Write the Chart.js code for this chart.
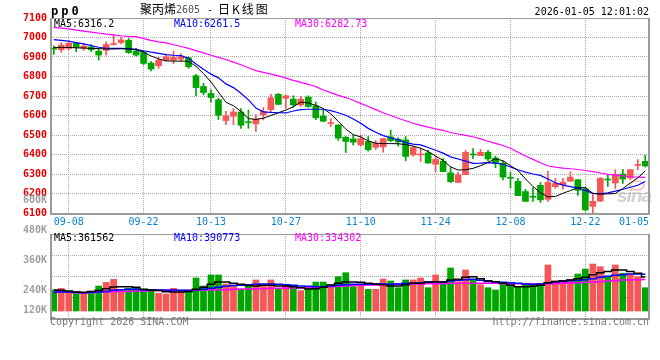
<!DOCTYPE html>
<html>
<head>
<meta charset="utf-8">
<script src="https://cdn.jsdelivr.net/npm/chart.js@4.4.1/dist/chart.umd.min.js"></script>
<style>
  html, body { margin: 0; padding: 0; background: #fff; }
  #wrap { position: relative; width: 660px; height: 360px; overflow: hidden; background: #fff;
          font-family: "DejaVu Sans Mono", monospace; font-size: 10px; color: #000; }
  #wrap canvas { position: absolute; left: 0; top: 0; }
  .t { position: absolute; white-space: pre; line-height: 12px; }
  .cjk { font-family: "Noto Sans CJK SC", sans-serif; font-size: 12px; }
  .mark { position: absolute; left: 617px; top: 185px; font: italic bold 19px "Liberation Sans", sans-serif;
          color: rgba(150,150,150,0.45); letter-spacing: -1px; }
  .eye { position: absolute; left: 629px; top: 180px; width: 12px; height: 7px; border-radius: 50%;
         border: 2px solid rgba(240,110,110,0.4); }
</style>
</head>
<body>
<div id="wrap">
  <div class="eye"></div>
  <div class="mark">sina</div>
  <canvas id="kline" width="660" height="360"></canvas>
  <canvas id="vol" width="660" height="360"></canvas>

  <div class="t" style="left:51px;top:4px;font-size:12px;font-weight:bold;letter-spacing:3px;line-height:14px">pp0</div>
  <div class="t cjk" style="left:140px;top:3px">聚丙烯</div>
  <div class="t" style="left:176px;top:4px;color:#555">2605</div>
  <div class="t" style="left:207px;top:4px">-</div>
  <div class="t cjk" style="left:218px;top:3px;letter-spacing:2px">日K线图</div>
  <div class="t" style="right:11px;top:6px">2026-01-05 12:01:02</div>

  <div class="t" id="ma5" style="left:54px;top:18px"></div>
  <div class="t" id="ma10" style="left:174px;top:18px;color:#0000ff"></div>
  <div class="t" id="ma30" style="left:295px;top:18px;color:#ff00ff"></div>
  <div class="t" id="vma5" style="left:54px;top:232px"></div>
  <div class="t" id="vma10" style="left:174px;top:232px;color:#0000ff"></div>
  <div class="t" id="vma30" style="left:295px;top:232px;color:#ff00ff"></div>

  <div class="t" style="left:50px;top:316px;color:#777">Copyright 2026 SINA.COM</div>
  <div class="t" style="right:11px;top:316px;color:#777">http://finance.sina.com.cn</div>
</div>

<script>
// pp0 daily K-line (聚丙烯2605) with MA5/10/30, plus volume panel below.

const DATES = [
  "09-04","09-05","09-08","09-09","09-10","09-11","09-12","09-15","09-16","09-17",
  "09-18","09-19","09-22","09-23","09-24","09-25","09-26","09-29","09-30","10-09",
  "10-10","10-13","10-14","10-15","10-16","10-17","10-20","10-21","10-22","10-23",
  "10-24","10-27","10-28","10-29","10-30","10-31","11-03","11-04","11-05","11-06",
  "11-07","11-10","11-11","11-12","11-13","11-14","11-17","11-18","11-19","11-20",
  "11-21","11-24","11-25","11-26","11-27","11-28","12-01","12-02","12-03","12-04",
  "12-05","12-08","12-09","12-10","12-11","12-12","12-15","12-16","12-17","12-18",
  "12-19","12-22","12-23","12-24","12-25","12-26","12-29","12-30","12-31","01-05",
];
// dates that get a label under the price panel; all but the last get a grid line
const AXIS_DATES = ["09-08","09-22","10-13","10-27","11-10","11-24","12-08","12-22","01-05"];

const OPEN = [
  6945,6937,6944,6971,6945,6951,6930,6934,6964,6974, 6986,6930,6923,6869,6855,6884,6884,6889,6896,6804,
  6749,6713,6681,6574,6596,6618,6567,6557,6604,6630, 6709,6688,6684,6654,6694,6650,6597,6559,6551,6489,
  6480,6449,6467,6437,6439,6490,6478,6475,6398,6398, 6408,6350,6366,6306,6257,6297,6401,6394,6411,6382,
  6356,6281,6262,6210,6184,6242,6170,6235,6245,6263, 6271,6223,6134,6161,6272,6254,6300,6280,6344,6365,
];
const HIGH = [
  6957,6974,6978,6974,6968,6964,6944,6978,7012,7001, 6995,6944,6930,6876,6900,6913,6930,6917,6901,6811,
  6765,6732,6689,6621,6635,6635,6628,6603,6641,6709, 6713,6705,6701,6698,6701,6669,6633,6584,6553,6492,
  6499,6499,6492,6472,6481,6525,6485,6492,6443,6432, 6421,6389,6379,6336,6309,6421,6430,6426,6421,6392,
  6366,6310,6276,6222,6230,6256,6314,6278,6278,6312, 6271,6231,6197,6282,6296,6322,6324,6324,6374,6396,
];
const LOW = [
  6913,6923,6935,6927,6934,6927,6884,6910,6961,6967, 6918,6905,6859,6828,6842,6879,6866,6879,6842,6701,
  6706,6669,6579,6553,6553,6534,6534,6518,6577,6620, 6655,6637,6642,6647,6642,6579,6567,6543,6472,6410,
  6448,6443,6417,6426,6412,6465,6443,6368,6392,6364, 6356,6311,6312,6256,6256,6297,6378,6394,6366,6332,
  6270,6228,6189,6158,6160,6154,6160,6227,6222,6263, 6190,6110,6100,6158,6236,6226,6251,6270,6322,6336,
];
const CLOSE = [
  6940,6961,6971,6949,6956,6937,6910,6964,6969,6988, 6923,6910,6867,6838,6883,6901,6898,6903,6850,6743,
  6718,6692,6601,6599,6618,6550,6563,6582,6621,6691, 6657,6701,6655,6684,6646,6588,6571,6562,6484,6467,
  6463,6481,6424,6457,6481,6471,6464,6390,6436,6401, 6356,6375,6312,6261,6296,6411,6398,6411,6377,6353,
  6284,6278,6189,6160,6181,6167,6257,6252,6258,6284, 6216,6116,6160,6278,6269,6297,6274,6322,6347,6341,
];
const MA5 = [
  6949,6949,6949,6947,6946,6944,6943,6941,6941,6942, 6941,6937,6925,6905,6890,6880,6879,6879,6878,6852,
  6815,6772,6720,6668,6650,6621,6584,6580,6586,6600, 6614,6628,6645,6669,6664,6652,6636,6608,6570,6530,
  6502,6490,6470,6458,6456,6456,6455,6451,6443,6432, 6415,6392,6370,6337,6320,6322,6329,6342,6360,6378,
  6368,6343,6318,6275,6236,6204,6183,6185,6201,6215, 6230,6230,6201,6197,6198,6200,6225,6254,6280,6316.2,
];
const MA10 = [
  6989,6985,6981,6974,6967,6958,6950,6945,6944,6944, 6943,6939,6932,6925,6919,6912,6909,6907,6894,6864,
  6837,6812,6793,6762,6743,6714,6680,6638,6619,6616, 6614,6613,6623,6630,6632,6632,6632,6625,6614,6601,
  6582,6560,6534,6514,6497,6486,6475,6461,6453,6449, 6436,6422,6407,6388,6377,6366,6355,6356,6358,6356,
  6350,6336,6322,6310,6300,6293,6274,6255,6243,6235, 6228,6216,6201,6198,6203,6212,6222,6232,6242,6261.5,
];
const MA30 = [
  7052,7048,7044,7038,7033,7028,7023,7017,7013,7009, 7006,7004,6994,6985,6978,6972,6963,6954,6944,6933,
  6921,6909,6898,6887,6874,6860,6845,6830,6821,6812, 6803,6792,6780,6770,6760,6748,6731,6717,6703,6692,
  6678,6662,6646,6630,6614,6600,6586,6573,6560,6549, 6540,6531,6524,6513,6505,6498,6491,6480,6468,6457,
  6446,6432,6412,6392,6375,6358,6341,6335,6330,6327, 6323,6318,6312,6305,6298,6294,6290,6286,6284,6282.73,
];

// volume, thousands of lots
const VOL = [
  223,240,205,187,187,205,265,304,336,223, 240,251,230,223,187,180,240,205,223,350,
  265,382,382,286,276,230,276,329,276,329, 240,276,251,215,251,307,307,276,364,406,
  258,286,230,230,339,318,247,329,329,350, 247,382,304,456,311,435,329,279,247,223,
  283,293,251,293,279,293,488,318,311,336, 392,445,498,470,364,488,399,392,364,247,
];
const VOL_MA5 = [
  223,219,212,201,198,208,216,237,254,258, 258,251,230,223,216,205,201,201,208,230,
  251,283,307,307,293,283,269,265,272,272, 265,265,258,247,233,237,251,276,293,307,
  307,304,293,286,279,265,265,279,293,293, 307,311,311,329,336,357,364,343,321,311,
  293,272,258,258,262,272,300,314,321,329, 343,357,385,406,420,435,435,420,399,361.562,
];
const VOL_MA10 = [
  198,201,201,198,194,198,201,208,219,226, 230,230,226,223,223,223,223,219,216,223,
  230,240,251,262,269,272,279,283,286,286, 283,279,272,265,262,258,258,265,272,279,
  283,283,283,286,286,283,286,293,293,297, 307,311,311,318,325,332,336,325,314,307,
  304,300,293,286,283,286,297,307,314,321, 325,332,343,357,368,378,385,392,392,390.773,
];
const VOL_MA30 = [
  205,201,198,194,191,194,198,201,205,208, 208,212,212,216,216,216,216,216,219,219,
  223,223,226,226,230,233,233,237,237,240, 240,244,244,247,247,251,251,258,262,265,
  269,272,276,276,279,279,283,283,286,286, 290,290,290,293,293,293,293,293,293,293,
  290,290,290,286,286,286,290,290,293,297, 300,304,307,311,318,321,329,332,332,334.302,
];
const VOL_TICKS = [600, 480, 360, 240, 120];

const RED = "#f55656";
const GREEN = "#00a600";
const GRID = "#aaaaaa";
const FRAME = "#9a9a9a";
const MONO = '"DejaVu Sans Mono", monospace';

const last = (a) => a[a.length - 1];
document.getElementById("ma5").textContent = "MA5:" + last(MA5);
document.getElementById("ma10").textContent = "MA10:" + last(MA10);
document.getElementById("ma30").textContent = "MA30:" + last(MA30);
document.getElementById("vma5").textContent = "MA5:" + Math.round(last(VOL_MA5) * 1000);
document.getElementById("vma10").textContent = "MA10:" + Math.round(last(VOL_MA10) * 1000);
document.getElementById("vma30").textContent = "MA30:" + Math.round(last(VOL_MA30) * 1000);

const candleColor = CLOSE.map((c, i) => (c >= OPEN[i] ? RED : GREEN));

Chart.defaults.font.family = MONO;
Chart.defaults.font.size = 10;

function xAxis() {
  return {
    type: "category",
    offset: true,
    ticks: { display: false },
    grid: { offset: false, drawTicks: false, color: GRID, lineWidth: 1 },
    border: { display: false, dash: [1, 1] },
    afterBuildTicks: (s) => {
      s.ticks = s.ticks.filter((t) => {
        const d = DATES[t.value];
        return AXIS_DATES.includes(d) && d !== last(AXIS_DATES);
      });
    },
    afterFit: (s) => { s.height = 0; },
  };
}

// panel box: thin top edge, heavier left / bottom / right edges
function drawFrame(chart) {
  const { ctx, chartArea: a } = chart;
  ctx.save();
  ctx.strokeStyle = FRAME;
  ctx.lineWidth = 1;
  ctx.beginPath();
  ctx.moveTo(a.left, a.top + 0.5);
  ctx.lineTo(a.right, a.top + 0.5);
  ctx.stroke();
  ctx.lineWidth = 2;
  ctx.beginPath();
  ctx.moveTo(a.left + 1, a.top);
  ctx.lineTo(a.left + 1, a.bottom + 1);
  ctx.lineTo(a.right, a.bottom + 1);
  ctx.lineTo(a.right, a.top);
  ctx.stroke();
  ctx.restore();
}

const klineDeco = {
  id: "klineDeco",
  afterDraw(chart) {
    drawFrame(chart);
    const { ctx, chartArea: a, scales: { x } } = chart;
    ctx.save();
    ctx.font = "10px " + MONO;
    ctx.fillStyle = "#0a84d2";
    ctx.textAlign = "center";
    ctx.textBaseline = "middle";
    AXIS_DATES.forEach((d) => {
      const w = ctx.measureText(d).width;
      let px = x.getPixelForValue(DATES.indexOf(d));
      px = Math.min(px, a.right - w / 2);
      ctx.fillText(d, px, a.bottom + 9);
    });
    ctx.restore();
  },
};

const volDeco = {
  id: "volDeco",
  afterDraw(chart) {
    drawFrame(chart);
    const { ctx, chartArea: a } = chart;
    // sina spreads these labels ~30px apart from just above the panel, last one pinned low
    ctx.save();
    ctx.font = "bold 10px " + MONO;
    ctx.fillStyle = "#a0a0a0";
    ctx.textAlign = "right";
    ctx.textBaseline = "middle";
    VOL_TICKS.forEach((v) => {
      const y = Math.min(a.top - 34 + (VOL_TICKS[0] - v) * 30.3 / 120, a.bottom - 7.5);
      ctx.fillText(v + "K", a.left - 3, y);
    });
    ctx.restore();
  },
};

new Chart(document.getElementById("kline"), {
  type: "bar",
  data: {
    labels: DATES,
    datasets: [
      { type: "line", data: MA5, borderColor: "#000", borderWidth: 1, pointRadius: 0, order: 0 },
      { type: "line", data: MA10, borderColor: "#0000ff", borderWidth: 1.2, pointRadius: 0, order: 0 },
      { type: "line", data: MA30, borderColor: "#ff00ff", borderWidth: 1.2, pointRadius: 0, order: 0 },
      {
        data: OPEN.map((o, i) => [o, CLOSE[i]]),
        backgroundColor: candleColor, barThickness: 6, minBarLength: 1, grouped: false, order: 1,
      },
      {
        data: LOW.map((l, i) => [l, HIGH[i]]),
        backgroundColor: candleColor, barThickness: 1, grouped: false, order: 2,
      },
    ],
  },
  options: {
    responsive: false,
    animation: false,
    events: [],
    layout: { padding: { top: 18, right: 11, bottom: 147, left: 0 } },
    plugins: { legend: { display: false }, tooltip: { enabled: false } },
    scales: {
      x: xAxis(),
      y: {
        min: 6100,
        max: 7100,
        ticks: {
          stepSize: 100, color: "#e80000", padding: 3,
          font: { family: MONO, size: 10, weight: "bold" },
          callback: (v) => String(v),
        },
        grid: { color: GRID, drawTicks: false, lineWidth: 1 },
        border: { display: false, dash: [1, 1] },
        afterFit: (s) => { s.width = 50; },
      },
    },
  },
  plugins: [klineDeco],
});

new Chart(document.getElementById("vol"), {
  type: "bar",
  data: {
    labels: DATES,
    datasets: [
      { type: "line", data: VOL_MA5, borderColor: "#000", borderWidth: 1.5, pointRadius: 0, stepped: "middle", order: 0 },
      { type: "line", data: VOL_MA10, borderColor: "#0000ff", borderWidth: 1.5, pointRadius: 0, stepped: "middle", order: 0 },
      { type: "line", data: VOL_MA30, borderColor: "#ff00ff", borderWidth: 1.5, pointRadius: 0, stepped: "middle", order: 0 },
      { data: VOL, backgroundColor: candleColor, barThickness: 6, order: 1 },
    ],
  },
  options: {
    responsive: false,
    animation: false,
    events: [],
    layout: { padding: { top: 234, right: 11, bottom: 42, left: 0 } },
    plugins: { legend: { display: false }, tooltip: { enabled: false } },
    scales: {
      x: xAxis(),
      y: {
        min: -74.2,
        max: 816.2,
        ticks: { display: false, count: 5 },
        grid: { color: GRID, drawTicks: false, lineWidth: 1 },
        border: { display: false, dash: [1, 1] },
        afterFit: (s) => { s.width = 50; },
      },
    },
  },
  plugins: [volDeco],
});
</script>
</body>
</html>
